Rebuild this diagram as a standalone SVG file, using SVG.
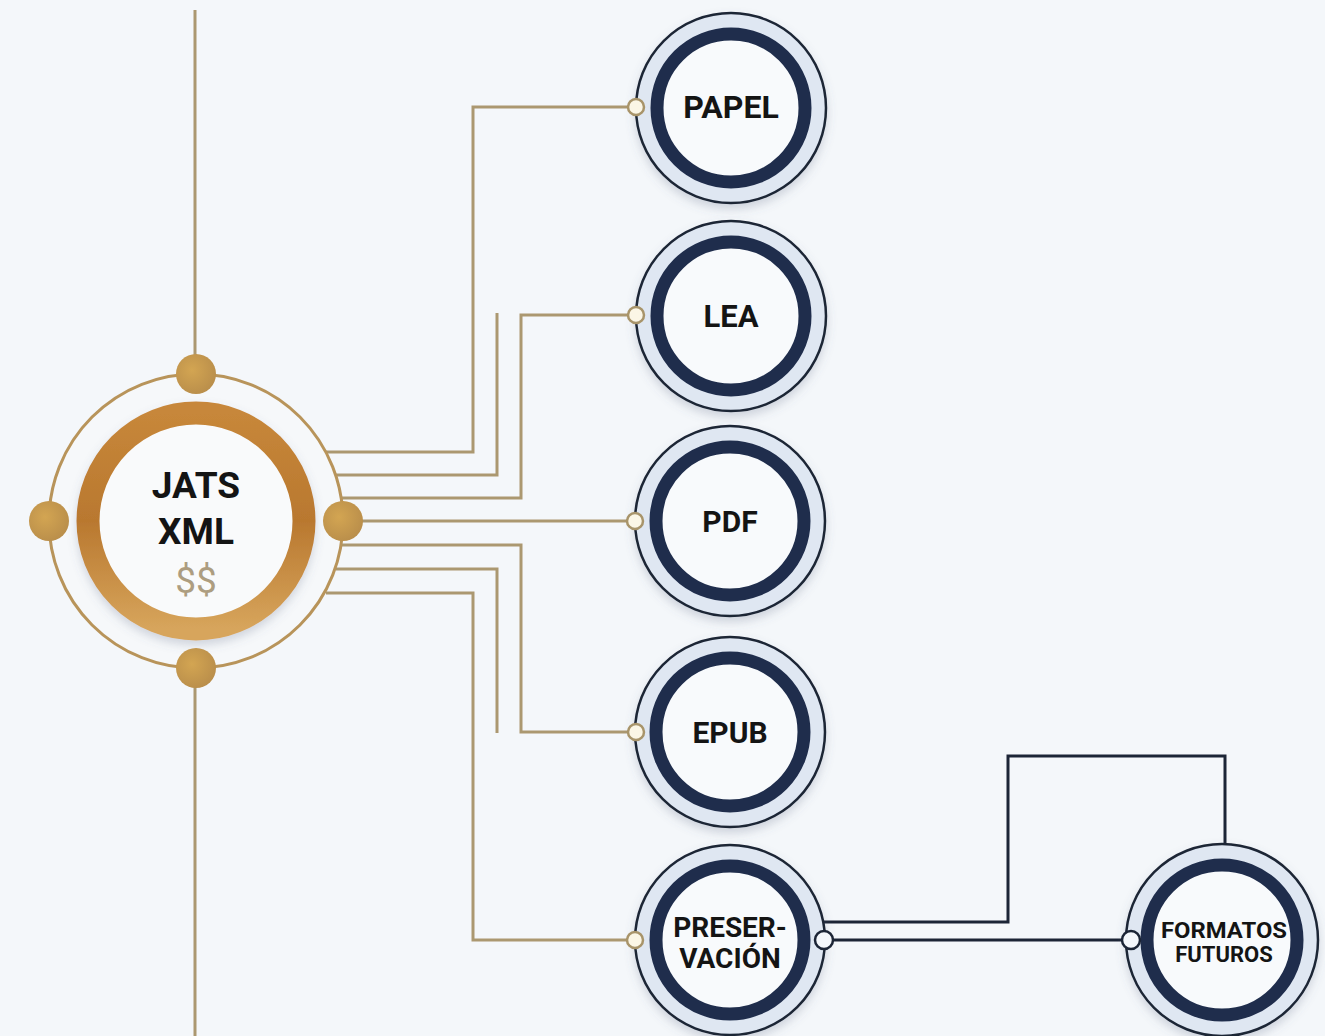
<svg xmlns="http://www.w3.org/2000/svg" width="1325" height="1036" viewBox="0 0 1325 1036">
<defs>
<style>
.gold{fill:none;stroke:#ab9870;stroke-width:3}
.navy{fill:none;stroke:#1c2536;stroke-width:3}
.gdot{fill:#fbf6e6;stroke:#a8946a;stroke-width:2.5}
.ndot{fill:#f4f7fb;stroke:#1c2536;stroke-width:2.5}
.outer{fill:#dfe7f2;stroke:#1c2536;stroke-width:2.5}
.ring{fill:#f8fafc;stroke:#1f2d4c;stroke-width:13}
.lbl{font-family:Roboto,"Liberation Sans",Arial,sans-serif;font-weight:700;fill:#141414;text-anchor:middle}
.bdot{fill:url(#dotg)}
</style>
<linearGradient id="bronze" x1="0" y1="0" x2="0" y2="1">
<stop offset="0" stop-color="#c7873a"/>
<stop offset="0.5" stop-color="#b9782f"/>
<stop offset="1" stop-color="#d7a55c"/>
</linearGradient>
<radialGradient id="dotg" cx="0.4" cy="0.4" r="0.7">
<stop offset="0" stop-color="#d3a552"/>
<stop offset="1" stop-color="#b78c4a"/>
</radialGradient>
<filter id="sh" x="-20%" y="-20%" width="140%" height="150%">
<feDropShadow dx="0" dy="5" stdDeviation="5" flood-color="#5a6b85" flood-opacity="0.25"/>
</filter>
</defs>
<rect width="1325" height="1036" fill="#f4f7fa"/>

<g id="connectors">
<path class="gold" d="M195,10 V374 M195,668 V1036"/>
<path class="gold" d="M326,452 H473 V107 H628"/>
<path class="gold" d="M336,475 H497 V313"/>
<path class="gold" d="M341,498 H521 V315 H628"/>
<path class="gold" d="M343,521 H627"/>
<path class="gold" d="M341,545 H521 V732 H628"/>
<path class="gold" d="M336,569 H497 V733"/>
<path class="gold" d="M326,593 H473 V940 H627"/>
<path class="navy" d="M822,922 H1008 V756 H1225 V843"/>
<path class="navy" d="M832,940 H1122"/>
</g>

<g id="jats">
<circle cx="196" cy="521" r="147" fill="#f6f8fa" stroke="#b8945a" stroke-width="3"/>
<circle cx="196" cy="521" r="108" fill="#f9fafb" stroke="url(#bronze)" stroke-width="23" filter="url(#sh)"/>
<circle class="bdot" cx="196" cy="374" r="20"/>
<circle class="bdot" cx="196" cy="668" r="20"/>
<circle class="bdot" cx="49" cy="521" r="20"/>
<circle class="bdot" cx="343" cy="521" r="20"/>
<text class="lbl" x="196" y="498" font-size="37">JATS</text>
<text class="lbl" x="196" y="544" font-size="37">XML</text>
<text x="196" y="593" font-size="37" font-family="Roboto,'Liberation Sans',Arial,sans-serif" fill="#ad9d80" text-anchor="middle">$$</text>
</g>

<g id="papel">
<circle class="outer" cx="731" cy="108" r="95" filter="url(#sh)"/>
<circle class="ring" cx="731" cy="108" r="74"/>
<circle class="gdot" cx="636" cy="107" r="8"/>
<text class="lbl" x="731" y="118" font-size="32">PAPEL</text>
</g>

<g id="lea">
<circle class="outer" cx="731" cy="316" r="95" filter="url(#sh)"/>
<circle class="ring" cx="731" cy="316" r="74"/>
<circle class="gdot" cx="636" cy="315" r="8"/>
<text class="lbl" x="731" y="327" font-size="31">LEA</text>
</g>

<g id="pdf">
<circle class="outer" cx="730" cy="521" r="95" filter="url(#sh)"/>
<circle class="ring" cx="730" cy="521" r="74"/>
<circle class="gdot" cx="635" cy="521" r="8"/>
<text class="lbl" x="730" y="532" font-size="30">PDF</text>
</g>

<g id="epub">
<circle class="outer" cx="730" cy="732" r="95" filter="url(#sh)"/>
<circle class="ring" cx="730" cy="732" r="74"/>
<circle class="gdot" cx="636" cy="732" r="8"/>
<text class="lbl" x="730" y="743" font-size="30">EPUB</text>
</g>

<g id="preservacion">
<circle class="outer" cx="730" cy="940" r="95" filter="url(#sh)"/>
<circle class="ring" cx="730" cy="940" r="74"/>
<circle class="gdot" cx="635" cy="940" r="8"/>
<circle class="ndot" cx="824" cy="940" r="9"/>
<text class="lbl" x="730" y="937" font-size="28">PRESER-</text>
<text class="lbl" x="730" y="968" font-size="28">VACIÓN</text>
</g>

<g id="formatos">
<circle class="outer" cx="1222" cy="940" r="96" filter="url(#sh)"/>
<circle class="ring" cx="1222" cy="940" r="75"/>
<circle class="ndot" cx="1131" cy="940" r="9"/>
<text class="lbl" x="1224" y="938" font-size="22" textLength="126" lengthAdjust="spacingAndGlyphs">FORMATOS</text>
<text class="lbl" x="1224" y="962" font-size="22">FUTUROS</text>
</g>
</svg>
